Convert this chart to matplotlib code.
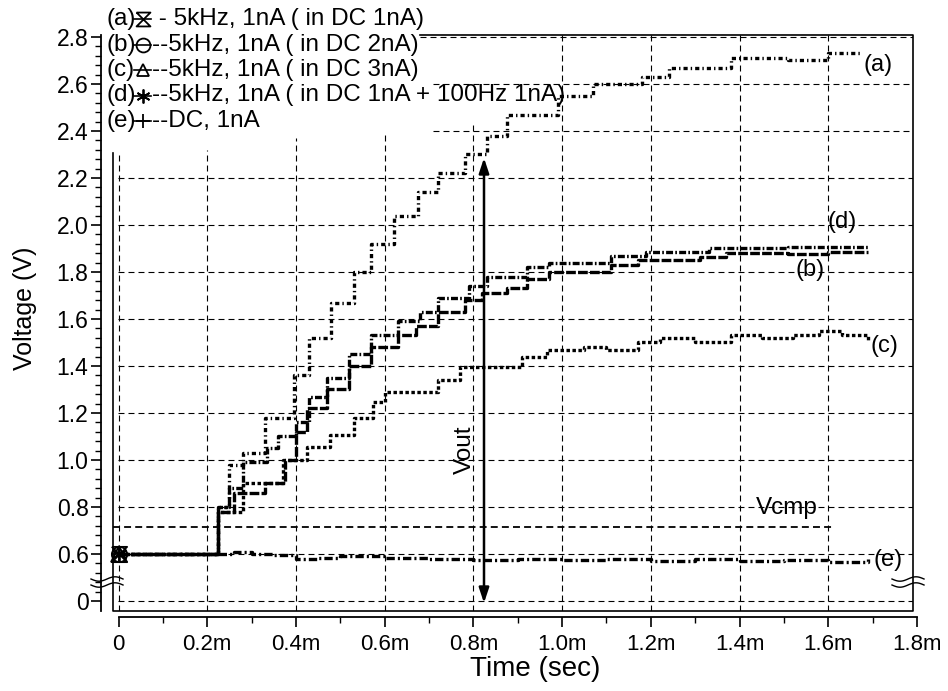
import numpy as np
import matplotlib.pyplot as plt
from matplotlib.lines import Line2D
from matplotlib.path import Path

plt.rcParams['font.family'] = ['Liberation Sans', 'DejaVu Sans']
plt.rcParams['lines.scale_dashes'] = False

# ---- data (time in ms, voltage in V) ----
t_a = [0, 0.225, 0.25, 0.28, 0.33, 0.395, 0.43, 0.48, 0.53, 0.57, 0.62, 0.675, 0.72, 0.78, 0.83,
       0.875, 0.99, 1.07, 1.18, 1.24, 1.38, 1.51, 1.60, 1.675]
v_a = [0.60, 0.80, 0.98, 1.03, 1.18, 1.36, 1.52, 1.67, 1.80, 1.92, 2.04, 2.14, 2.22, 2.30, 2.38,
       2.47, 2.55, 2.60, 2.63, 2.67, 2.71, 2.70, 2.73, 2.73]

t_b = [0, 0.225, 0.26, 0.33, 0.375, 0.40, 0.425, 0.47, 0.52, 0.57, 0.63, 0.67, 0.72, 0.78, 0.82,
       0.875, 0.92, 0.97, 1.11, 1.17, 1.31, 1.37, 1.51, 1.60, 1.69]
v_b = [0.60, 0.78, 0.86, 0.90, 1.00, 1.12, 1.22, 1.30, 1.40, 1.48, 1.53, 1.57, 1.63, 1.68, 1.71,
       1.73, 1.77, 1.80, 1.83, 1.85, 1.865, 1.88, 1.875, 1.885, 1.885]

t_c = [0, 0.225, 0.28, 0.37, 0.425, 0.477, 0.53, 0.574, 0.60, 0.72, 0.77, 0.91, 0.965, 1.05,
       1.10, 1.17, 1.22, 1.30, 1.38, 1.45, 1.52, 1.58, 1.63, 1.69]
v_c = [0.60, 0.78, 0.90, 1.00, 1.055, 1.105, 1.18, 1.245, 1.29, 1.34, 1.395, 1.44, 1.47, 1.48,
       1.47, 1.50, 1.52, 1.50, 1.53, 1.52, 1.53, 1.55, 1.53, 1.51]

t_d = [0, 0.225, 0.25, 0.28, 0.335, 0.36, 0.40, 0.43, 0.47, 0.52, 0.57, 0.63, 0.68, 0.72, 0.79,
       0.83, 0.92, 0.97, 1.11, 1.19, 1.33, 1.51, 1.69]
v_d = [0.60, 0.80, 0.88, 0.99, 1.05, 1.10, 1.16, 1.27, 1.35, 1.45, 1.53, 1.59, 1.63, 1.69, 1.74,
       1.78, 1.82, 1.84, 1.87, 1.885, 1.90, 1.905, 1.905]

t_e = [0, 0.225, 0.26, 0.30, 0.35, 0.40, 0.45, 0.50, 0.55, 0.60, 0.70, 0.80, 0.90, 1.00, 1.10,
       1.20, 1.30, 1.40, 1.50, 1.60, 1.69]
v_e = [0.60, 0.60, 0.61, 0.60, 0.595, 0.58, 0.585, 0.59, 0.59, 0.585, 0.58, 0.575, 0.58, 0.575,
       0.58, 0.57, 0.58, 0.57, 0.575, 0.565, 0.58]

v_cmp = 0.715
y_ticks = [0, 0.6, 0.8, 1.0, 1.2, 1.4, 1.6, 1.8, 2.0, 2.2, 2.4, 2.6, 2.8]
x_ticks = [0, 0.2, 0.4, 0.6, 0.8, 1.0, 1.2, 1.4, 1.6, 1.8]
legend_rows = [("(a)", " - 5kHz, 1nA ( in DC 1nA)"),
               ("(b)", "--5kHz, 1nA ( in DC 2nA)"),
               ("(c)", "--5kHz, 1nA ( in DC 3nA)"),
               ("(d)", "--5kHz, 1nA ( in DC 1nA + 100Hz 1nA)"),
               ("(e)", "--DC, 1nA")]

# ---- layout helpers (pixel based) ----
W, H = 948, 691
fig = plt.figure(figsize=(W / 100, H / 100), dpi=100)

def fx(px): return px / W
def fy(py): return 1 - py / H

X0, X18 = 118.5, 917.0         # pixel of t=0 and t=1.8ms
SX = (X18 - X0) / 1.8
SY = 235.0                     # pixels per volt
def dx(px): return (px - X0) / SX
def dy(py): return 2.8 - (py - 37) / SY
def ypos(v): return 0.4 if v == 0 else v   # broken axis: 0 sits one step below 0.6

L, R, T, B = 101, 913, 35, 611
ax = fig.add_axes([fx(L), fy(B), fx(R) - fx(L), fy(T) - fy(B)])
ax.set_xlim(dx(L), dx(R))
ax.set_ylim(dy(B), dy(T))
for s in ['top', 'right', 'bottom']:
    ax.spines[s].set_visible(False)
ax.spines['left'].set_linewidth(1.3)
ax.set_xticks([])
ax.set_yticks([ypos(v) for v in y_ticks])
ax.set_yticklabels(['0' if v == 0 else f'{v:.1f}' for v in y_ticks])
minor = [p for p in np.arange(0.4, 2.801, 0.04) if abs((p - 0.4) / 0.2 - round((p - 0.4) / 0.2)) > 1e-6]
ax.set_yticks(minor, minor=True)
ax.tick_params(axis='y', which='major', length=7, width=1.2, labelsize=16.5, pad=2)
ax.tick_params(axis='y', which='minor', length=4, width=1.0)

# grid (partly hidden behind the legend area)
gd = dict(color='black', lw=0.8, dashes=(4.3, 2.9), zorder=1)
h_start = [118] * 10 + [433, 433, 420]
for v, xs in zip(y_ticks, h_start):
    ax.plot([dx(xs), dx(R)], [ypos(v)] * 2, **gd)
v_top = [153, 150, 138, 135, 125, 35, 35, 35, 35]
for t, yt in zip(x_ticks[:-1], v_top):
    ax.plot([t, t], [dy(B), dy(yt)], **gd)

# Vcmp line
ax.plot([dx(113), dx(835)], [v_cmp] * 2, color='black', lw=1.3, dashes=(5, 3), zorder=1)
ax.text(dx(787), dy(508), 'Vcmp', fontsize=17.5, ha='center', va='center')

# curves
hourglass = Path([(-1, 1), (1, 1), (-1, -1), (1, -1), (-1, 1)])
series = [(t_a, v_a, (3, 2.2, 1, 2.2), hourglass),
          (t_b, v_b, (7, 1.6), 'o'),
          (t_c, v_c, (2.5, 1.8), '^'),
          (t_d, v_d, (5, 1.6, 1.2, 1.6), (6, 2, 0)),
          (t_e, v_e, (6, 2.2, 1.5, 2.2), '+')]
for t, v, ds, mk in series:
    ax.plot(t, v, color='black', lw=2.4, dashes=ds, drawstyle='steps-post', zorder=3)
    ax.plot(t[0], v[0], marker=mk, ms=11, mfc='none', mec='black', mew=1.3, ls='none', zorder=4)

# curve labels
for lab, px, py in [('(a)', 878, 65), ('(d)', 842, 222), ('(b)', 810, 270),
                    ('(c)', 884, 346), ('(e)', 888, 560)]:
    ax.text(dx(px), dy(py), lab, fontsize=17, ha='center', va='center')

# Vout arrow
ax.annotate('', xy=(dx(484), dy(158)), xytext=(dx(484), dy(603)),
            arrowprops=dict(arrowstyle='<|-|>,head_length=0.9,head_width=0.3', lw=1.8,
                            color='black', shrinkA=0, shrinkB=0))
ax.text(dx(465), dy(450), 'Vout', fontsize=17.5, rotation=90, ha='center', va='center')

# partial frame
def px_line(xs, ys, **kw):
    fig.add_artist(Line2D([fx(x) for x in xs], [fy(y) for y in ys], color='black', **kw))

px_line([113, 113, 913, 913, 420], [153, B, B, T, T], lw=1.2)

# axis break marks
for cx in [107, 908]:
    xs = np.linspace(-16, 16, 40)
    for off in (-3, 3):
        px_line(cx + xs, 582 + off - 2.2 * np.sin(xs / 16 * np.pi), lw=1.0)

# legend block
for i, (tag, txt) in enumerate(legend_rows):
    yy = 19 + i * 25.5
    mk = [hourglass, 'o', '^', (6, 2, 0), '+'][i]
    fig.text(fx(106), fy(yy), tag, fontsize=17.5, ha='left', va='center')
    px_line([134, 151], [yy, yy], lw=1.2)
    fig.add_artist(Line2D([fx(143)], [fy(yy)], marker=mk, ms=10 if i != 2 else 8,
                          mfc='none', mec='black', mew=1.3, ls='none'))
    fig.text(fx(152), fy(yy), txt, fontsize=17.5, ha='left', va='center')

# separate time axis
narrow = ['Liberation Sans Narrow', 'Liberation Sans', 'DejaVu Sans']
ax2 = fig.add_axes([fx(X0), fy(617), fx(X18) - fx(X0), 0.0005])
ax2.set_xlim(0, 1.8)
for s in ['top', 'right', 'left']:
    ax2.spines[s].set_visible(False)
ax2.spines['bottom'].set_linewidth(1.3)
ax2.patch.set_visible(False)
ax2.set_yticks([])
ax2.set_xticks(x_ticks)
ax2.set_xticklabels(['0' if t == 0 else f'{t:.1f}m' for t in x_ticks], family=narrow)
ax2.set_xticks(np.arange(0.1, 1.8, 0.2), minor=True)
ax2.tick_params(axis='x', which='major', length=7, width=1.2, labelsize=16, pad=5)
ax2.tick_params(axis='x', which='minor', length=4, width=1.0)

fig.text(fx(535), fy(669), 'Time (sec)', fontsize=20, family=narrow, ha='center', va='center')
fig.text(fx(25), fy(308), 'Voltage (V)', fontsize=18, rotation=90, ha='center', va='center')

fig.savefig('out.png', dpi=100)
